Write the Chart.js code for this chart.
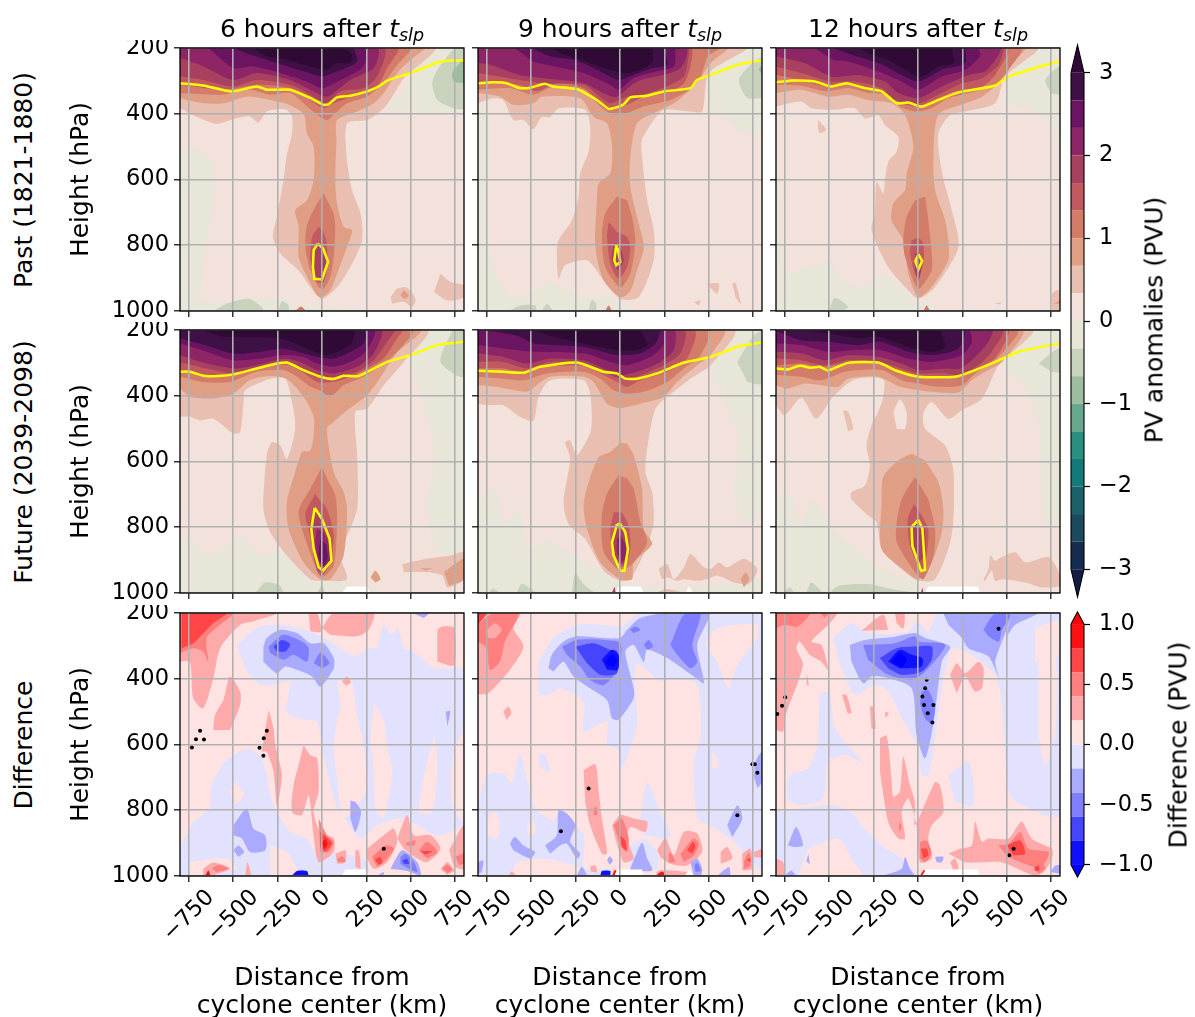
<!DOCTYPE html>
<html>
<head>
<meta charset="utf-8">
<title>PV anomalies</title>
<script src="https://cdn.jsdelivr.net/npm/chart.js@4"></script>
<style>
  html, body { margin: 0; background: #fff; overflow: hidden; height: 100%; }
  canvas { position: absolute; }
  .lbl { position: absolute; white-space: nowrap; color: #000; font-family: "DejaVu Sans"; font-size: 25px; transform: translate(-50%, -50%); }
  .rot { transform: translate(-50%, -50%) rotate(-90deg); }
  .lbl sub { font-size: 17.5px; vertical-align: -4px; line-height: 0; }
</style>
</head>
<body>
<script>
// colour bands, low to high
const pvBounds = [-3, -2.667, -2.333, -2, -1.667, -1.333, -1, -0.667, -0.333, 0, 0.333, 0.667, 1, 1.333, 1.667, 2, 2.333, 2.667, 3];
const pvColors = ['#151d44', '#152c50', '#1a4a5b', '#1b6268', '#127a78', '#2a8f7e', '#68a88c', '#9dbd9f', '#c9d2bd', '#e8e6d9',
  '#f3e2dc', '#e8bfb0', '#e09f84', '#d47c6a', '#c35960', '#a8405f', '#8e2567', '#6a1462', '#3f1045', '#2e0a35'];
const diffBounds = [-1, -0.8, -0.6, -0.4, -0.2, 0, 0.2, 0.4, 0.6, 0.8, 1];
const diffColors = ['#0000ff', '#1010ff', '#4545ff', '#7f7fff', '#aaaaff', '#e2e2ff', '#ffe2e2', '#ffaaaa', '#ff7f7f', '#ff4545', '#ff1010', '#ff0000'];
const xTicks = [-750, -500, -250, 0, 250, 500, 750];
const yTicks = [200, 400, 600, 800, 1000];
const pvTicks = [-3, -2, -1, 0, 1, 2, 3];
const diffTicks = [-1, -0.5, 0, 0.5, 1];
const columnTitles = ['6 hours after', '9 hours after', '12 hours after'];
const rowTitles = ['Past (1821-1880)', 'Future (2039-2098)', 'Difference'];
const fullPanel = [-800, 200, 800, 200, 800, 1000, -800, 1000];

// contour outlines: [band, [km, hPa, km, hPa, ...]]
const past6Bands = [
  [10, fullPanel],
  [9, [367, 388, 800, 388, 800, 200, 631, 200]],
  [9, [-678, 510, -612, 561, -621, 703, -659, 825, -697, 958, -800, 958, -800, 510]],
  [9, [-800, 965, -560, 975, -420, 960, -210, 965, -140, 985, 0, 985, 130, 1000, -800, 1000]],
  [8, [744, 200, 650, 266, 621, 307, 650, 358, 744, 383, 800, 383, 800, 200]],
  [7, [800, 230, 734, 276, 744, 302, 800, 307]],
  [8, [-612, 1000, -537, 978, -414, 963, -339, 988, -330, 1000]],
  [8, [-245, 1000, -226, 970, -188, 983, -188, 1000]],
  [11, [-800, 383, -687, 414, -593, 431, -480, 414, -405, 408, -358, 427, -311, 393, -207, 386, -169, 408, -169, 459, -198, 525, -217, 602, -254, 713, -277, 775, -235, 825, -132, 876, -66, 927, 0, 963, 85, 927, 160, 866, 226, 785, 217, 703, 169, 632, 141, 541, 141, 429, 254, 419, 348, 383, 395, 348, 461, 292, 631, 200, -800, 200]],
  [11, [668, 886, 725, 912, 800, 922, 800, 958, 706, 968, 631, 942]],
  [11, [386, 958, 424, 932, 480, 929, 527, 963, 508, 988, 461, 972, 395, 978]],
  [12, [461, 937, 490, 953, 461, 963, 442, 950]],
  [13, [-151, 1000, -119, 986, -89, 1000]],
  [12, [-800, 353, -669, 368, -555, 368, -424, 348, -292, 358, -198, 370, -104, 400, -85, 459, -47, 500, -47, 602, -85, 663, -151, 693, -132, 744, -132, 835, -85, 896, -28, 952, 0, 959, 47, 937, 85, 886, 141, 805, 169, 754, 122, 744, 85, 673, 75, 602, 81, 480, 85, 419, 198, 393, 292, 368, 348, 337, 424, 276, 499, 236, 574, 200, -800, 200]],
  [13, [-800, 337, -555, 342, -405, 327, -292, 342, -179, 337, -104, 368, -28, 403, 28, 419, 66, 403, 141, 368, 254, 348, 348, 307, 424, 251, 499, 200, -800, 200]],
  [13, [9, 642, -38, 683, -85, 739, -94, 805, -66, 876, -19, 927, 9, 932, 47, 896, 66, 835, 75, 744, 66, 703]],
  [14, [-800, 312, -555, 327, -367, 312, -179, 322, -66, 358, 9, 383, 66, 368, 198, 342, 311, 317, 367, 261, 424, 200, -800, 200]],
  [14, [-19, 744, -56, 775, -66, 846, -28, 912, 9, 912, 28, 866, 28, 795, 9, 759]],
  [15, [-800, 286, -669, 297, -499, 317, -367, 297, -179, 312, -66, 342, 19, 368, 104, 332, 235, 322, 311, 286, 348, 200, -800, 200]],
  [15, [-28, 795, -47, 835, -38, 896, 6, 902, 32, 850, 0, 805]],
  [16, [-800, 230, -669, 256, -499, 297, -367, 276, -179, 297, -47, 332, 28, 348, 160, 297, 292, 261, 311, 200, -800, 200]],
  [17, [-640, 200, -499, 261, -386, 256, -235, 276, -85, 302, 0, 322, 104, 297, 235, 256, 254, 200]],
  [18, [-499, 200, -405, 220, -254, 246, -104, 271, 0, 286, 85, 271, 198, 241, 179, 200]],
  [19, [-386, 200, -311, 225, -235, 231, -104, 251, 28, 266, 85, 246, 160, 246, 169, 220, 122, 200]]
];
const past6Trop = [-800, 307, -669, 314, -509, 332, -367, 317, -311, 327, -179, 327, -66, 352, 9, 373, 38, 371, 85, 350, 160, 345, 254, 332, 320, 317, 367, 299, 499, 276, 650, 244, 725, 238, 800, 238];
const past6Core = [-23, 795, -47, 815, -51, 866, -43, 902, 0, 904, 34, 850, 6, 810, -23, 795];

const past9Bands = [
  [10, fullPanel],
  [9, [501, 276, 708, 200, 800, 200, 802, 454, 665, 449, 567, 399, 501, 393]],
  [9, [-800, 368, -733, 409, -743, 683, -714, 866, -601, 958, -394, 917, -243, 947, -55, 963, 21, 978, 96, 1000, -800, 1000]],
  [8, [800, 225, 746, 246, 670, 297, 717, 352, 800, 352]],
  [7, [802, 251, 783, 266, 802, 281]],
  [8, [-629, 1000, -563, 983, -478, 983, -469, 1000]],
  [8, [-441, 1000, -412, 978, -375, 1000]],
  [8, [-177, 1000, -158, 966, -134, 978, -134, 1000]],
  [11, [-800, 368, -714, 353, -657, 358, -601, 419, -544, 419, -488, 447, -441, 410, -394, 410, -346, 383, -196, 388, -168, 439, -177, 515, -224, 581, -233, 652, -271, 724, -346, 785, -356, 825, -346, 901, -309, 861, -186, 846, -92, 907, 2, 963, 105, 958, 190, 846, 190, 754, 153, 663, 124, 530, 124, 480, 190, 419, 247, 388, 397, 393, 463, 393, 501, 276, 708, 200, -800, 200]],
  [11, [491, 917, 557, 917, 548, 947, 510, 930]],
  [11, [633, 917, 651, 915, 680, 978, 651, 958]],
  [11, [416, 973, 454, 968, 444, 983]],
  [12, [-800, 337, -675, 348, -601, 373, -488, 368, -441, 348, -224, 353, -149, 409, -73, 429, -45, 500, -54, 581, -120, 612, -130, 663, -139, 805, -92, 907, 2, 958, 58, 940, 96, 876, 134, 805, 96, 714, 58, 622, 58, 530, 96, 429, 190, 398, 303, 368, 397, 327, 453, 292, 510, 246, 602, 200, -800, 200]],
  [13, [-800, 327, -620, 322, -488, 342, -375, 317, -205, 327, -100, 383, -36, 403, 40, 398, 134, 378, 284, 358, 397, 325, 454, 287, 495, 226, 557, 200, -800, 200]],
  [13, [-17, 652, -83, 703, -102, 764, -83, 866, 2, 927, 58, 886, 87, 785, 68, 714, 40, 663]],
  [13, [-83, 1000, -64, 983, -45, 1000]],
  [14, [-800, 307, -565, 312, -470, 332, -358, 307, -205, 322, -111, 368, -55, 385, 40, 373, 134, 348, 284, 332, 360, 307, 397, 256, 397, 200, -800, 200]],
  [14, [-64, 729, -73, 775, -55, 856, -8, 902, 40, 866, 58, 805, 40, 775, -17, 759]],
  [15, [-800, 276, -565, 297, -431, 307, -205, 312, -102, 353, -55, 368, 40, 348, 134, 342, 284, 312, 360, 287, 380, 246, 380, 200, -800, 200]],
  [15, [-36, 795, -45, 846, -8, 876, 21, 846, 2, 805]],
  [16, [-800, 246, -733, 251, -565, 282, -424, 292, -205, 307, -73, 342, -17, 348, 96, 302, 284, 276, 341, 261, 375, 226, 372, 200, -800, 200]],
  [17, [-591, 200, -488, 241, -412, 251, -205, 276, -55, 312, -8, 327, 77, 292, 209, 271, 303, 256, 313, 200]],
  [18, [-497, 200, -394, 225, -262, 236, -130, 266, -8, 297, 77, 282, 181, 261, 266, 251, 247, 200]],
  [19, [-394, 200, -318, 220, -243, 231, -92, 261, 40, 276, 153, 256, 186, 236, 181, 200]]
];
const past9Trop = [-800, 307, -714, 304, -639, 307, -565, 322, -499, 320, -424, 309, -375, 317, -243, 325, -196, 337, -130, 358, -64, 385, -36, 383, 21, 371, 58, 350, 153, 345, 247, 332, 397, 322, 435, 297, 510, 282, 661, 251, 793, 238];
const past9Core = [-21, 800, -32, 846, -21, 861, 2, 851, -11, 815, -21, 800];

const past12Bands = [
  [10, fullPanel],
  [9, [491, 368, 510, 287, 670, 200, 802, 200, 802, 470, 735, 430, 640, 385]],
  [9, [-800, 500, -775, 650, -750, 880, -620, 868, -495, 848, -430, 910, -318, 928, -186, 890, -55, 948, -8, 972, 96, 978, 96, 1000, -800, 1000]],
  [8, [802, 251, 717, 297, 755, 338, 802, 343]],
  [8, [-497, 993, -469, 960, -394, 988, -431, 1000, -497, 1000]],
  [11, [-800, 378, -657, 363, -601, 383, -469, 388, -356, 383, -299, 414, -224, 404, -186, 434, -111, 470, -120, 515, -167, 546, -186, 602, -196, 642, -233, 607, -243, 703, -262, 754, -168, 866, -55, 937, 2, 963, 96, 927, 228, 805, 190, 693, 134, 576, 115, 459, 181, 404, 266, 393, 435, 368, 491, 287, 670, 200, -800, 200]],
  [11, [-563, 419, -516, 449, -554, 459, -563, 444]],
  [11, [755, 1000, 755, 947, 793, 937, 802, 1000]],
  [11, [433, 978, 470, 973, 461, 980]],
  [12, [764, 978, 802, 968, 802, 978]],
  [13, [30, 1000, 49, 983, 68, 1000]],
  [12, [-800, 337, -657, 327, -507, 348, -394, 342, -281, 358, -149, 368, -73, 403, -26, 500, -64, 581, -73, 632, -139, 673, -149, 724, -83, 785, -55, 886, 2, 958, 77, 927, 171, 846, 171, 785, 153, 724, 96, 632, 87, 530, 115, 403, 266, 368, 360, 348, 463, 302, 548, 236, 604, 200, -800, 200]],
  [13, [-800, 312, -657, 315, -516, 332, -394, 322, -281, 337, -186, 342, -102, 378, -17, 393, 77, 383, 171, 353, 322, 332, 435, 312, 510, 266, 580, 200, -800, 200]],
  [13, [-17, 663, -64, 714, -83, 785, -73, 835, 2, 932, 77, 876, 77, 825, 58, 724, 40, 652]],
  [14, [-800, 282, -657, 297, -516, 317, -394, 307, -262, 327, -168, 342, -92, 368, 2, 378, 115, 353, 209, 332, 360, 317, 435, 282, 501, 200, -800, 200]],
  [14, [-36, 785, -45, 825, -8, 896, 30, 856, 30, 795, 2, 775]],
  [15, [-800, 256, -657, 276, -488, 302, -356, 302, -205, 322, -130, 358, 2, 368, 115, 342, 247, 307, 360, 292, 454, 251, 473, 200, -800, 200]],
  [15, [-17, 825, -17, 876, 2, 907, 21, 866, 11, 825]],
  [16, [-800, 225, -639, 246, -488, 287, -337, 282, -186, 302, -111, 337, 2, 352, 134, 317, 284, 282, 378, 271, 435, 236, 463, 200, -800, 200]],
  [17, [-582, 200, -478, 236, -394, 241, -224, 271, -92, 302, 2, 327, 134, 287, 266, 266, 350, 225, 341, 200]],
  [18, [-478, 200, -375, 220, -224, 246, -92, 282, 2, 302, 134, 266, 266, 246, 266, 200]],
  [19, [-337, 200, -262, 220, -168, 236, -73, 266, 11, 287, 115, 256, 200, 246, 190, 200]]
];
const past12Trop = [-800, 304, -694, 299, -582, 302, -488, 317, -403, 307, -299, 322, -205, 332, -121, 368, -55, 366, 21, 378, 115, 358, 228, 335, 435, 314, 510, 287, 661, 261, 793, 241];
const past12Core = [2, 827, -15, 848, 2, 874, 23, 848, 2, 827];

const future6Bands = [
  [10, fullPanel],
  [9, [499, 286, 593, 200, 800, 200, 800, 866, 650, 875, 593, 744, 631, 561, 555, 388]],
  [9, [-800, 825, -744, 835, -612, 886, -480, 825, -330, 886, -235, 876, -66, 958, 0, 968, 141, 968, 273, 988, 348, 1000, -800, 1000]],
  [8, [734, 200, 668, 297, 800, 343, 800, 200]],
  [8, [-377, 1000, -320, 968, -235, 978, -217, 1000]],
  [8, [-28, 1000, 0, 978, 19, 1000]],
  [11, [-800, 464, -744, 464, -687, 475, -612, 470, -499, 515, -461, 510, -442, 419, -433, 383, -292, 348, -207, 348, -169, 419, -151, 500, -198, 592, -235, 551, -282, 541, -311, 581, -330, 744, -292, 815, -198, 886, -66, 958, 0, 963, 141, 958, 104, 886, 198, 744, 198, 581, 188, 449, 254, 439, 348, 368, 461, 297, 593, 200, -800, 200]],
  [11, [452, 912, 574, 897, 725, 886, 800, 876, 800, 958, 706, 983, 678, 947, 593, 937, 461, 937]],
  [12, [555, 925, 621, 925, 584, 932]],
  [12, [687, 937, 800, 896, 800, 958, 716, 978]],
  [12, [273, 953, 301, 932, 330, 958, 301, 968]],
  [12, [-800, 378, -744, 403, -612, 408, -499, 393, -405, 352, -290, 340, -200, 348, -150, 372, -85, 419, -47, 465, -47, 520, -66, 566, -113, 572, -151, 632, -198, 724, -188, 805, -104, 907, -9, 958, 47, 958, 122, 886, 141, 744, 122, 693, 66, 632, 28, 500, 66, 480, 132, 449, 254, 398, 340, 335, 420, 270, 553, 200, -800, 200]],
  [13, [-800, 342, -669, 358, -518, 358, -367, 327, -217, 322, -141, 342, -66, 372, -9, 385, 47, 403, 122, 368, 235, 342, 311, 317, 424, 266, 508, 200, -800, 200]],
  [13, [0, 617, -66, 683, -132, 749, -113, 805, -28, 932, 0, 952, 66, 917, 85, 775, 75, 703, 28, 652]],
  [14, [-800, 322, -669, 337, -537, 342, -367, 317, -207, 305, -113, 327, -28, 358, 66, 358, 160, 342, 254, 317, 348, 286, 424, 225, 452, 200, -800, 200]],
  [14, [-38, 698, -94, 759, -66, 825, -28, 932, 0, 947, 47, 907, 66, 825, 28, 744, -19, 714]],
  [15, [-800, 297, -649, 317, -480, 332, -330, 307, -207, 297, -122, 317, -28, 342, 75, 342, 198, 327, 292, 292, 367, 236, 405, 200, -800, 200]],
  [15, [-41, 739, -66, 805, -28, 927, 9, 932, 56, 896, 43, 835, 0, 775]],
  [16, [-800, 276, -649, 302, -480, 317, -330, 302, -207, 287, -104, 302, -28, 322, 66, 332, 198, 312, 292, 271, 330, 200, -800, 200]],
  [16, [-28, 805, -38, 850, -9, 912, 28, 920, 47, 895, 38, 850, 10, 815]],
  [17, [-800, 241, -649, 266, -499, 292, -348, 287, -217, 276, -104, 282, -28, 302, 66, 312, 179, 292, 254, 261, 292, 200, -800, 200]],
  [17, [-9, 835, -19, 886, 6, 917, 32, 896, 24, 855]],
  [18, [-800, 225, -660, 246, -499, 272, -348, 266, -217, 256, -104, 271, -28, 282, 66, 287, 160, 266, 235, 241, 235, 200, -800, 200]],
  [19, [-669, 200, -555, 220, -235, 225, -66, 261, 28, 276, 160, 246, 188, 200]],
  [-1, [113, 1000, 141, 980, 254, 980, 273, 1000]]
];
const future6Trop = [-800, 327, -744, 327, -659, 340, -518, 337, -367, 317, -254, 302, -198, 299, -104, 322, -9, 342, 66, 349, 122, 339, 207, 340, 367, 297, 499, 276, 650, 246, 800, 236];
const future6Core = [-41, 741, -60, 805, -47, 866, -19, 922, 6, 932, 53, 902, 43, 835, 0, 775, -41, 741];

const future9Bands = [
  [10, fullPanel],
  [9, [510, 307, 642, 200, 802, 200, 802, 760, 690, 780, 640, 690, 670, 530, 570, 400]],
  [9, [-800, 724, -694, 688, -657, 785, -563, 744, -525, 866, -412, 840, -262, 886, -92, 937, 2, 968, 153, 978, 303, 985, 453, 985, 620, 968, 802, 960, 802, 1000, -800, 1000]],
  [8, [-743, 1000, -714, 986, -676, 1000]],
  [8, [-582, 1000, -554, 972, -488, 993, -459, 1000]],
  [8, [-271, 1000, -252, 942, -196, 978, -139, 1000]],
  [8, [661, 297, 755, 216, 802, 203, 802, 363, 717, 358]],
  [11, [-800, 424, -733, 429, -657, 429, -563, 464, -488, 476, -459, 403, -394, 353, -205, 353, -167, 398, -164, 505, -243, 581, -281, 536, -309, 541, -281, 592, -318, 724, -290, 790, -196, 836, -92, 932, 2, 963, 58, 958, 153, 856, 190, 785, 181, 693, 143, 632, 162, 530, 200, 439, 266, 403, 397, 348, 510, 307, 642, 200, -800, 200]],
  [11, [218, 927, 266, 912, 303, 958, 360, 922, 397, 881, 473, 922, 510, 927, 557, 907, 604, 922, 699, 896, 774, 927, 727, 972, 642, 968, 548, 947, 491, 958, 435, 963, 360, 958, 322, 963, 266, 953, 237, 958]],
  [11, [200, 1000, 266, 988, 360, 1000]],
  [12, [680, 958, 708, 937, 727, 958, 699, 983]],
  [12, [-800, 368, -694, 373, -525, 388, -459, 363, -394, 342, -205, 342, -149, 358, -73, 424, 2, 437, 153, 419, 247, 403, 322, 358, 435, 307, 510, 276, 585, 200, -800, 200]],
  [12, [2, 543, -55, 571, -120, 587, -177, 663, -205, 734, -186, 805, -111, 907, 2, 958, 68, 958, 77, 907, 181, 851, 134, 805, 124, 683, 77, 581, 40, 546]],
  [13, [-800, 342, -657, 348, -544, 353, -412, 332, -205, 327, -111, 348, -36, 383, 40, 393, 134, 388, 266, 358, 360, 317, 450, 280, 500, 200, -800, 200]],
  [13, [-8, 642, -73, 698, -102, 764, -92, 876, 2, 932, 77, 907, 153, 846, 115, 785, 77, 683, 40, 652]],
  [14, [-800, 317, -657, 317, -544, 327, -412, 312, -205, 309, -92, 337, -17, 358, 40, 373, 115, 353, 266, 327, 378, 287, 416, 200, -800, 200]],
  [14, [-36, 754, -55, 805, -45, 866, -8, 917, 30, 917, 58, 866, 49, 795, 11, 754]],
  [15, [-800, 297, -657, 297, -525, 317, -394, 297, -205, 302, -92, 327, 2, 348, 96, 342, 247, 307, 341, 271, 360, 200, -800, 200]],
  [15, [-32, 805, -45, 856, -2, 912, 30, 907, 45, 856, 11, 805]],
  [15, [-45, 1000, -30, 982, -25, 1000]],
  [16, [-800, 271, -657, 282, -525, 302, -394, 287, -205, 292, -73, 322, 2, 337, 96, 327, 228, 297, 303, 261, 303, 200, -800, 200]],
  [16, [-17, 835, -17, 876, 11, 907, 36, 886, 30, 851, 2, 825]],
  [17, [-800, 246, -657, 256, -488, 266, -205, 271, -55, 297, 40, 307, 190, 276, 256, 236, 247, 200, -800, 200]],
  [18, [-750, 200, -563, 220, -488, 241, -205, 251, -17, 276, 115, 271, 200, 241, 230, 200]],
  [19, [-488, 200, -375, 220, -205, 241, -17, 261, 96, 261, 153, 246, 115, 200]],
  [-1, [-26, 1000, -8, 980, 115, 980, 134, 1000]],
  [-1, [369, 1000, 388, 980, 412, 1000]]
];
const future9Trop = [-800, 324, -657, 327, -544, 330, -450, 312, -243, 299, -92, 327, -17, 332, 30, 348, 96, 348, 209, 332, 360, 299, 510, 282, 661, 251, 793, 238];
const future9Core = [-17, 791, -45, 846, -36, 886, 2, 932, 25, 932, 45, 866, 30, 815, 2, 791, -17, 791];

const future12Bands = [
  [10, fullPanel],
  [9, [454, 307, 642, 200, 802, 200, 802, 780, 720, 790, 690, 640, 680, 480, 590, 360]],
  [9, [-800, 700, -710, 700, -657, 795, -601, 714, -488, 795, -394, 845, -205, 928, -17, 963, 2, 978, 40, 1000, -800, 1000]],
  [8, [-761, 1000, -723, 983, -695, 1000]],
  [8, [-629, 1000, -601, 968, -535, 1000]],
  [8, [-497, 1000, -450, 978, -281, 973, -149, 988, -8, 1000]],
  [8, [680, 302, 774, 261, 802, 256, 802, 328, 755, 328]],
  [11, [-800, 429, -751, 459, -657, 406, -573, 470, -478, 403, -356, 350, -196, 350, -196, 403, -224, 449, -262, 490, -290, 551, -271, 612, -299, 673, -375, 693, -375, 714, -281, 764, -233, 785, -205, 866, -73, 937, 2, 963, 96, 958, 190, 825, 200, 632, 153, 551, 40, 500, 30, 454, 77, 419, 171, 470, 247, 444, 360, 409, 454, 307, 642, 200, -800, 200]],
  [10, [-139, 449, -102, 411, -64, 449, -73, 500, -120, 500]],
  [11, [-422, 444, -394, 449, -365, 500, -394, 508]],
  [11, [369, 958, 397, 927, 407, 886, 435, 902, 454, 896, 548, 876, 604, 907, 736, 891, 802, 947, 802, 978, 699, 983, 604, 968, 473, 958, 435, 963, 416, 932, 378, 963]],
  [12, [-800, 368, -733, 378, -639, 363, -544, 368, -450, 373, -394, 348, -224, 342, -102, 373, -55, 378, 77, 388, 228, 390, 303, 353, 378, 327, 473, 297, 586, 200, -800, 200]],
  [12, [-36, 576, -111, 597, -196, 647, -205, 724, -205, 866, -73, 932, 2, 958, 77, 907, 134, 815, 143, 744, 115, 663, 40, 597]],
  [13, [-800, 337, -657, 342, -544, 353, -412, 327, -205, 322, -92, 353, 2, 363, 115, 373, 247, 368, 322, 332, 435, 292, 557, 200, -800, 200]],
  [13, [-17, 647, -92, 714, -120, 785, -120, 846, -17, 937, 30, 958, 87, 886, 96, 805, 58, 714]],
  [14, [-800, 307, -657, 302, -544, 312, -412, 302, -205, 302, -92, 327, 2, 342, 134, 348, 247, 337, 322, 322, 435, 285, 501, 225, 510, 200, -800, 200]],
  [14, [-23, 729, -58, 775, -45, 856, 21, 932, 49, 886, 58, 805, 21, 764]],
  [15, [-800, 287, -657, 292, -525, 307, -394, 292, -215, 297, -92, 317, 2, 332, 153, 332, 228, 337, 341, 307, 416, 266, 473, 200, -800, 200]],
  [15, [-26, 785, -36, 846, 2, 907, 40, 876, 40, 805]],
  [15, [17, 1000, 25, 985, 30, 1000]],
  [16, [-800, 266, -657, 271, -525, 292, -394, 277, -215, 282, -92, 302, 2, 322, 153, 317, 237, 317, 322, 282, 397, 236, 416, 200, -800, 200]],
  [17, [-800, 241, -657, 246, -507, 266, -356, 261, -215, 261, -55, 287, 77, 297, 247, 276, 303, 236, 284, 200, -800, 200]],
  [18, [-790, 205, -657, 231, -507, 236, -337, 246, -215, 236, -55, 266, 77, 276, 228, 256, 256, 200, -790, 200]],
  [19, [-657, 200, -507, 210, -337, 225, -224, 220, -55, 251, 77, 266, 153, 251, 124, 200]],
  [-1, [40, 1000, 55, 980, 337, 980, 350, 1000]]
];
const future12Trop = [-800, 317, -733, 320, -667, 309, -601, 315, -554, 312, -507, 323, -394, 300, -224, 299, -120, 324, 2, 342, 209, 342, 322, 322, 435, 297, 567, 266, 793, 241];
const future12Core = [2, 777, -36, 800, -32, 856, 17, 932, 40, 929, 25, 805, 2, 777];

const diff6Bands = [
  [6, fullPanel],
  [5, [-480, 297, -367, 246, -235, 236, -66, 256, 47, 286, 179, 332, 273, 307, 499, 312, 631, 368, 800, 378, 800, 835, 650, 876, 461, 825, 311, 846, 217, 886, 141, 835, 85, 795, 0, 612, -28, 530, -104, 525, -198, 500, -183, 408, -273, 419, -348, 419, -424, 378]],
  [5, [311, 307, 348, 236, 395, 266, 424, 246, 461, 307]],
  [5, [-631, 795, -621, 724, -546, 652, -424, 612, -339, 642, -273, 785, -179, 866, -85, 886, -28, 932, 122, 932, 254, 958, 254, 1000, -800, 1000, -800, 917, -725, 835]],
  [6, [85, 408, 160, 398, 198, 510, 226, 581, 254, 734, 122, 825, 85, 703, 66, 602, 104, 480]],
  [6, [292, 470, 348, 530, 367, 602, 395, 683, 348, 825, 301, 795, 292, 683, 273, 581]],
  [6, [631, 571, 650, 663, 621, 805, 546, 805, 593, 652]],
  [6, [744, 622, 800, 561, 800, 835, 734, 785, 725, 683]],
  [6, [-744, 958, -537, 947, -480, 978, -744, 1000]],
  [6, [-292, 907, -198, 927, -141, 988, -292, 1000]],
  [6, [-490, 713, -439, 754, -490, 780, -518, 744]],
  [7, [-800, 200, -254, 200, -386, 225, -461, 236, -574, 307, -612, 398, -669, 490, -725, 459, -744, 348, -800, 348]],
  [7, [-612, 556, -602, 510, -555, 464, -518, 393, -461, 439, -461, 480, -518, 556]],
  [7, [-75, 200, -28, 200, -6, 256, -66, 256]],
  [7, [0, 246, 66, 200, 292, 200, 263, 251, 198, 271, 47, 266]],
  [7, [650, 251, 678, 241, 744, 246, 744, 358, 650, 348]],
  [7, [-301, 495, -273, 551, -263, 602, -226, 693, -254, 785, -273, 683, -311, 622, -339, 622]],
  [7, [-104, 602, -66, 632, -28, 642, -19, 744, -47, 805, -9, 866, 66, 886, 66, 927, -19, 958, -47, 876, -75, 754, -113, 815, -169, 805, -160, 724, -132, 663]],
  [7, [75, 932, 132, 922, 132, 958, 85, 963]],
  [7, [254, 917, 348, 876, 405, 856, 424, 896, 367, 958, 292, 978, 254, 947]],
  [7, [424, 886, 480, 815, 518, 876, 612, 876, 668, 917, 593, 958, 537, 947, 461, 917]],
  [7, [716, 922, 800, 846, 800, 978, 744, 973]],
  [7, [668, 978, 706, 958, 744, 983, 706, 996]],
  [7, [-669, 978, -612, 959, -518, 978, -631, 1000, -669, 1000]],
  [7, [-433, 1000, -420, 958, -395, 1000]],
  [7, [188, 922, 207, 922, 217, 978, 188, 972]],
  [7, [113, 408, 141, 393, 164, 411, 137, 421]],
  [8, [-800, 200, -499, 200, -574, 236, -650, 276, -640, 348, -669, 317, -725, 307, -800, 322]],
  [9, [-791, 200, -537, 200, -612, 231, -650, 251, -725, 292, -791, 307]],
  [8, [-19, 825, 28, 876, 66, 896, 38, 927, -9, 927]],
  [9, [-9, 866, 56, 899, 19, 926, -9, 912]],
  [10, [19, 886, 32, 902, 13, 917, 0, 899]],
  [8, [282, 942, 357, 907, 405, 917, 348, 958, 311, 973]],
  [9, [296, 950, 330, 942, 339, 958, 320, 966]],
  [8, [546, 922, 593, 896, 650, 927, 593, 947]],
  [9, [555, 925, 621, 925, 584, 935]],
  [8, [471, 899, 527, 892, 518, 907, 480, 907]],
  [8, [753, 942, 800, 932, 800, 962, 772, 967]],
  [8, [678, 978, 706, 965, 734, 981, 706, 991]],
  [8, [-621, 978, -584, 966, -527, 978, -593, 988]],
  [10, [-659, 1000, -640, 983, -627, 1000]],
  [8, [85, 950, 113, 940, 132, 956, 94, 958]],
  [4, [-330, 302, -311, 276, -235, 251, -141, 261, -66, 292, 9, 292, 66, 337, 66, 368, -9, 424, -56, 393, -141, 373, -207, 363, -254, 383, -330, 348]],
  [4, [-499, 846, -424, 795, -386, 856, -320, 876, -320, 922, -405, 927, -452, 886, -499, 876]],
  [4, [160, 770, 188, 775, 220, 805, 188, 866, 160, 825]],
  [4, [-499, 922, -471, 907, -439, 927, -471, 942]],
  [4, [697, 500, 722, 498, 707, 545]],
  [4, [405, 958, 452, 922, 537, 958, 556, 1000, 480, 985, 386, 978]],
  [4, [311, 1000, 348, 988, 348, 1000]],
  [4, [508, 200, 602, 200, 574, 215]],
  [4, [-179, 1000, -132, 983, -85, 988, -75, 1000]],
  [3, [-301, 302, -217, 266, -113, 287, -75, 307, -85, 348, -160, 327, -217, 342, -292, 322]],
  [3, [-47, 352, -9, 322, 43, 352, 0, 368]],
  [3, [442, 942, 471, 932, 518, 958, 537, 988, 490, 978, 442, 963]],
  [2, [-273, 302, -226, 282, -179, 295, -207, 317, -254, 317]],
  [2, [452, 953, 480, 948, 490, 963, 461, 963]],
  [1, [-169, 1000, -141, 985, -85, 985, -75, 1000]],
  [-1, [113, 1000, 132, 980, 245, 980, 264, 1000]]
];
const diff6Dots = [-687, 558, -710, 584, -733, 609, -311, 558, -328, 581, -330, 634, -665, 585, -352, 610, 348, 917];

const diff9Bands = [
  [6, fullPanel],
  [5, [-459, 348, -375, 276, -243, 236, -111, 236, 2, 241, 115, 200, 802, 200, 802, 978, 623, 886, 501, 846, 435, 825, 416, 652, 454, 581, 435, 419, 322, 398, 228, 408, 96, 353, 87, 429, 96, 541, 11, 673, -17, 612, -73, 602, -73, 530, -205, 561, -205, 470, -337, 429, -394, 449, -459, 449]],
  [6, [482, 297, 548, 246, 774, 236, 774, 276, 661, 358, 614, 429, 548, 348]],
  [6, [520, 617, 558, 663, 520, 673]],
  [5, [-800, 1000, -800, 798, -750, 693, -657, 688, -610, 718, -563, 627, -480, 790, -380, 830, -330, 810, -205, 876, -200, 975, -55, 980, -36, 1000]],
  [5, [-459, 627, -422, 632, -394, 683, -450, 673]],
  [6, [-743, 825, -705, 805, -676, 846, -695, 886, -743, 876]],
  [6, [-525, 846, -488, 830, -478, 871, -516, 876]],
  [6, [-582, 958, -450, 947, -318, 958, -224, 978, -281, 1000, -620, 1000]],
  [5, [115, 825, 153, 714, 228, 805, 284, 866, 266, 886, 134, 876]],
  [5, [58, 907, 134, 886, 209, 927, 209, 978, 58, 978]],
  [7, [-800, 200, -563, 200, -601, 246, -544, 302, -620, 373, -741, 444, -800, 447]],
  [7, [-657, 500, -629, 485, -612, 505, -638, 525]],
  [7, [-205, 678, -139, 660, -120, 744, -102, 825, -73, 932, -102, 932, -168, 846, -196, 775]],
  [7, [-45, 846, 2, 815, 77, 825, 153, 835, 143, 866, 58, 851, 40, 886, 77, 947, 21, 958, -26, 886]],
  [7, [209, 922, 256, 886, 303, 937, 360, 866, 435, 871, 463, 927, 378, 968, 284, 963, 228, 943]],
  [7, [567, 927, 604, 912, 633, 947, 567, 963]],
  [7, [689, 932, 736, 917, 746, 978, 689, 983]],
  [7, [755, 927, 802, 917, 802, 942, 755, 942]],
  [7, [-168, 972, -139, 968, -130, 988, -164, 986]],
  [7, [-629, 1000, -610, 986, -582, 1000]],
  [7, [200, 1000, 218, 983, 378, 988, 360, 1000]],
  [8, [-800, 236, -714, 200, -572, 200, -648, 287, -676, 348, -733, 373, -751, 307, -800, 287]],
  [7, [-751, 251, -704, 231, -667, 251, -704, 276, -742, 276]],
  [9, [-800, 200, -751, 200, -800, 236]],
  [8, [-36, 846, 11, 825, 49, 886, 40, 927, 2, 907, -17, 876]],
  [9, [-2, 876, 30, 892, 36, 922, 11, 912]],
  [8, [341, 932, 416, 886, 444, 902, 416, 937, 360, 958]],
  [9, [378, 922, 412, 896, 425, 912, 407, 932]],
  [8, [275, 932, 284, 927, 312, 958, 275, 958]],
  [8, [699, 953, 727, 927, 736, 968, 699, 978]],
  [9, [712, 950, 733, 946, 736, 958]],
  [8, [-149, 795, -130, 790, -130, 815, -149, 813]],
  [10, [200, 1000, 237, 986, 266, 1000]],
  [10, [-45, 1000, -32, 983, -21, 983, -32, 1000]],
  [4, [-403, 368, -384, 327, -318, 287, -243, 271, -92, 276, 2, 276, 40, 251, 115, 215, 266, 200, 501, 200, 435, 297, 473, 413, 416, 393, 266, 337, 153, 312, 134, 348, 77, 297, 30, 317, 77, 429, 77, 459, -8, 525, -45, 520, -73, 465, -168, 429, -262, 393, -318, 348, -375, 378]],
  [3, [-327, 302, -243, 282, -92, 282, 2, 292, -8, 368, -92, 419, -168, 404, -224, 363, -300, 327]],
  [3, [284, 297, 360, 205, 454, 200, 407, 297, 435, 348, 397, 368, 322, 327]],
  [3, [134, 297, 162, 282, 186, 302, 156, 312]],
  [3, [55, 251, 87, 241, 115, 251, 77, 261]],
  [2, [-252, 302, -149, 292, -55, 312, -17, 317, -17, 383, -111, 388, -186, 353]],
  [1, [-102, 342, -45, 312, -8, 327, -13, 373, -73, 373]],
  [0, [-83, 348, -45, 327, -17, 342, -36, 363, -70, 360]],
  [4, [-422, 907, -356, 876, -346, 800, -299, 810, -252, 846, -281, 896, -224, 932, -243, 947, -299, 902, -337, 907, -394, 932]],
  [4, [-620, 902, -592, 881, -544, 907, -478, 927, -506, 947, -601, 922]],
  [4, [604, 846, 661, 785, 689, 825, 633, 881]],
  [4, [755, 698, 764, 652, 802, 622, 802, 714, 774, 732]],
  [4, [58, 978, 124, 899, 153, 947, 181, 983, 58, 983]],
  [4, [-73, 953, -58, 940, -40, 953, -58, 966]],
  [4, [-800, 958, -770, 953, -780, 988, -800, 993]],
  [4, [397, 958, 435, 947, 463, 978, 454, 1000, 416, 1000]],
  [3, [420, 968, 435, 960, 454, 983, 426, 988]],
  [4, [548, 1000, 614, 973, 623, 1000]],
  [4, [-243, 1000, -215, 973, -183, 1000]],
  [1, [-111, 1000, -102, 985, -55, 985, -55, 1000]],
  [-1, [-32, 1000, -8, 980, 124, 980, 134, 1000]],
  [-1, [369, 1000, 388, 980, 412, 1000]]
];
const diff9Dots = [774, 686, -333, 864, -177, 734, 661, 815, 746, 660, 759, 660];

const diff12Bands = [
  [6, fullPanel],
  [5, [-478, 276, -375, 231, -281, 261, -55, 256, -8, 225, 58, 256, 115, 200, 802, 200, 802, 815, 584, 785, 510, 744, 473, 480, 435, 388, 266, 317, 190, 307, 134, 429, 105, 551, 58, 693, 21, 693, -8, 602, -92, 520, -168, 439, -243, 419, -356, 449, -440, 358]],
  [6, [661, 246, 793, 225, 793, 327, 661, 348]],
  [6, [680, 348, 774, 337, 774, 561, 717, 663, 680, 581]],
  [6, [322, 500, 388, 490, 397, 632, 378, 683, 322, 683]],
  [5, [171, 693, 284, 652, 313, 785, 209, 775]],
  [5, [-554, 444, -497, 439, -469, 551, -318, 652, -412, 632, -507, 652, -535, 764, -657, 785, -733, 764, -723, 693, -620, 673, -563, 602]],
  [5, [-800, 805, -488, 785, -375, 805, -318, 846, -205, 907, -92, 947, -17, 1000, -800, 1000]],
  [6, [-620, 917, -450, 886, -375, 947, -318, 1000, -676, 1000]],
  [7, [-800, 200, -459, 200, -506, 236, -600, 287, -544, 297, -506, 373, -544, 348, -610, 327, -667, 287, -685, 307, -648, 358, -751, 520, -760, 561, -800, 556]],
  [7, [-318, 254, -196, 205, -168, 251]],
  [7, [-130, 200, -77, 200, -83, 247, -120, 231]],
  [7, [181, 388, 218, 353, 266, 383, 341, 348, 369, 368, 360, 429, 322, 439, 266, 393, 218, 444]],
  [7, [-428, 449, -403, 449, -375, 505, -397, 505]],
  [7, [-271, 485, -252, 485, -239, 551, -262, 553]],
  [7, [-186, 500, -164, 505, -183, 520]],
  [7, [-628, 383, -615, 419, -628, 419]],
  [7, [-214, 581, -177, 573, -149, 703, -139, 759, -102, 744, -83, 637, -45, 724, -17, 775, -17, 846, 96, 714, 124, 724, 143, 805, 77, 846, 58, 886, 77, 947, 11, 958, -8, 846, -55, 764, -92, 805, -73, 886, -111, 886, -168, 835, -214, 683]],
  [7, [171, 932, 237, 917, 303, 907, 322, 835, 360, 896, 397, 886, 510, 886, 584, 835, 640, 886, 717, 907, 755, 917, 755, 947, 708, 988, 661, 1000, 473, 958, 378, 958, 266, 958, 190, 937]],
  [7, [181, 958, 209, 947, 228, 978, 200, 983]],
  [7, [-800, 947, -760, 958, -751, 1000, -800, 1000]],
  [8, [-800, 200, -610, 200, -677, 241, -751, 236, -800, 246]],
  [8, [-553, 200, -506, 200, -525, 215]],
  [8, [11, 897, 49, 892, 77, 932, 40, 958, 11, 947]],
  [9, [17, 917, 49, 917, 58, 937, 30, 947]],
  [8, [-107, 835, -92, 850, -107, 866]],
  [8, [452, 907, 510, 902, 576, 866, 623, 917, 736, 927, 717, 958, 661, 973, 510, 943]],
  [9, [501, 907, 576, 892, 604, 932, 538, 937]],
  [8, [651, 978, 699, 958, 717, 978, 680, 993]],
  [9, [656, 973, 680, 968, 684, 983, 661, 985]],
  [10, [11, 1000, 30, 983, 40, 983, 21, 1000]],
  [4, [-384, 297, -299, 282, -130, 272, -17, 261, 40, 276, 181, 302, 134, 348, 87, 536, 40, 642, -8, 571, -36, 429, -168, 398, -262, 393, -309, 414, -375, 348]],
  [4, [143, 200, 510, 200, 435, 348, 454, 393, 397, 332, 284, 307, 247, 276, 171, 236]],
  [4, [518, 200, 678, 200, 548, 236, 501, 271]],
  [3, [-309, 297, -130, 292, -17, 271, 2, 287, 153, 297, 40, 378, -36, 403, -168, 388, -281, 342]],
  [3, [21, 439, 58, 434, 96, 490, 77, 536, 40, 521, 11, 475]],
  [3, [369, 251, 426, 205, 520, 205, 473, 251, 454, 287, 397, 271]],
  [2, [-215, 337, -120, 307, -17, 302, 77, 302, 77, 342, 21, 378, -92, 388, -168, 368]],
  [1, [-168, 348, -102, 312, -36, 327, 24, 337, 21, 363, -55, 368, -102, 368]],
  [0, [-149, 348, -102, 322, -64, 342, -92, 368]],
  [4, [-733, 907, -686, 851, -648, 907, -695, 912]],
  [4, [-628, 955, -618, 935, -608, 965]],
  [4, [96, 942, 143, 942, 134, 958, 105, 958]],
  [4, [-205, 1000, -92, 978, -73, 942, -45, 978, -17, 1000]],
  [4, [-752, 1000, -714, 983, -686, 1000]],
  [4, [746, 988, 774, 968, 802, 968, 802, 993]],
  [-1, [36, 1000, 40, 980, 337, 980, 350, 1000]]
];
const diff12Dots = [-793, 507, -766, 482, -748, 456, 55, 505, 34, 480, 87, 480, 40, 429, 81, 533, 539, 917, 514, 937, 25, 454, 49, 403, 454, 248];

const columnLefts = [180, 478, 776];
const rowTops = [48, 330, 613];
const panelW = 284, panelH = 263;
const marginL = 114, marginT = 8, marginR = 8;
Chart.defaults.font.family = 'DejaVu Sans';
Chart.defaults.font.size = 22.5;
Chart.defaults.color = '#000';

const frame = {
  id: 'frame',
  afterDraw(chart) {
    const a = chart.chartArea, ctx = chart.ctx;
    ctx.save();
    ctx.strokeStyle = '#000';
    ctx.lineWidth = 1.3;
    ctx.strokeRect(a.left, a.top, a.right - a.left, a.bottom - a.top);
    ctx.restore();
  }
};

// matplotlib centres rotated tick labels on the tick, chart.js right-aligns them
const centerTicks = {
  id: 'centerTicks',
  beforeDraw(chart) {
    const s = chart.scales.x, ctx = chart.ctx;
    if (!s.options.ticks.display) return;
    ctx.save();
    ctx.font = '22.5px "DejaVu Sans"';
    s.getLabelItems(chart.chartArea).forEach((item, i) => {
      const w = ctx.measureText(item.label).width;
      const boxH = (w + 17) * Math.SQRT1_2;
      item.options.translation = [s.getPixelForValue(xTicks[i]), chart.chartArea.bottom + 12 + boxH / 2];
      item.options.textAlign = 'center';
      item.options.textBaseline = 'middle';
      item.textOffset = 0;
    });
    ctx.restore();
  }
};

function toPoints(flat) {
  const pts = [];
  for (let i = 0; i < flat.length; i += 2) pts.push({ x: flat[i], y: flat[i + 1] });
  return pts;
}

function shape(flat, color, order, tension) {
  return { data: toPoints(flat), showLine: true, fill: 'shape', backgroundColor: color, borderWidth: 0, pointRadius: 0, tension: tension || 0, order: order };
}

function fmtTick(v) {
  return v < 0 ? '\u2212' + (-v) : '' + v;
}

function noPadding(s) {
  s.paddingTop = s.paddingBottom = s.paddingLeft = s.paddingRight = 0;
}

function addCanvas(left, top, w, h) {
  const c = document.createElement('canvas');
  c.width = w; c.height = h;
  c.style.left = left + 'px';
  c.style.top = top + 'px';
  c.style.width = w + 'px';
  c.style.height = h + 'px';
  document.body.appendChild(c);
  return c.getContext('2d');
}

function addLabel(html, x, y, rotated) {
  const d = document.createElement('div');
  d.className = 'lbl' + (rotated ? ' rot' : '');
  d.innerHTML = html;
  d.style.left = x + 'px';
  d.style.top = y + 'px';
  document.body.appendChild(d);
}

function drawPanel(col, row, bands, colors, trop, core, dots) {
  const bottomRow = row === 2, firstCol = col === 0;
  const marginB = bottomRow ? 144 : 8;
  const datasets = bands.map(([band, flat], i) => shape(flat, band < 0 ? '#ffffff' : colors[band], 1000 - i, flat === fullPanel || band < 0 ? 0 : 0.25));
  if (trop) datasets.push({ data: toPoints(trop), showLine: true, fill: false, borderColor: '#ffff00', borderWidth: 2.5, pointRadius: 0, tension: 0.2, order: 1 });
  if (core) datasets.push({ data: toPoints(core), showLine: true, fill: false, borderColor: '#ffff00', borderWidth: 2.5, pointRadius: 0, order: 1 });
  if (dots) datasets.push({ data: toPoints(dots), showLine: false, backgroundColor: '#000', pointRadius: 2, borderWidth: 0, order: 0 });
  const gridOpts = { color: '#b0b0b0', lineWidth: 1.6, z: 1, tickColor: '#000', tickLength: 6, tickWidth: 1.2 };
  new Chart(addCanvas(columnLefts[col] - marginL, rowTops[row] - marginT, panelW + marginL + marginR, panelH + marginT + marginB), {
    type: 'scatter',
    data: { datasets: datasets },
    plugins: [frame, centerTicks],
    options: {
      responsive: false,
      animation: false,
      devicePixelRatio: 1,
      layout: { padding: { top: marginT, right: marginR, left: 0, bottom: 0 } },
      plugins: { legend: { display: false }, tooltip: { enabled: false } },
      scales: {
        x: {
          type: 'linear', min: -800, max: 800,
          grid: gridOpts, border: { display: false },
          afterBuildTicks: s => { s.ticks = xTicks.map(v => ({ value: v })); },
          afterFit: s => { s.height = marginB; noPadding(s); },
          ticks: { display: bottomRow, autoSkip: false, minRotation: 45, maxRotation: 45, callback: fmtTick },
          title: { display: bottomRow, text: ['Distance from', 'cyclone center (km)'], font: { size: 25, lineHeight: 1.12 }, padding: { top: 0, bottom: 0 } }
        },
        y: {
          type: 'linear', reverse: true, min: 200, max: 1000,
          grid: gridOpts, border: { display: false },
          afterBuildTicks: s => { s.ticks = yTicks.map(v => ({ value: v })); },
          afterFit: s => { s.width = marginL; noPadding(s); },
          ticks: { display: firstCol, autoSkip: false, padding: 5, callback: fmtTick },
          title: { display: firstCol, text: 'Height (hPa)', font: { size: 25 }, padding: { top: 0, bottom: 0 } }
        }
      }
    }
  });
}

function drawColorbar(top, h, bounds, colors, ticks, tip, decimals) {
  const last = bounds.length - 1;
  const datasets = [];
  bounds.slice(0, last).forEach((b, i) => {
    datasets.push(shape([-1, b, 1, b, 1, bounds[i + 1], -1, bounds[i + 1]], colors[i + 1], 100));
  });
  datasets.push(shape([-1, bounds[0], 0, -tip, 1, bounds[0]], colors[0], 100));
  datasets.push(shape([-1, bounds[last], 0, tip, 1, bounds[last]], colors[colors.length - 1], 100));
  datasets.push({
    data: toPoints([-1, bounds[last], 0, tip, 1, bounds[last], 1, bounds[0], 0, -tip, -1, bounds[0], -1, bounds[last]]),
    showLine: true, fill: false, borderColor: '#000', borderWidth: 1.1, pointRadius: 0, clip: 2, order: 1
  });
  const w = 13, marginX = 3, right = 100, pad = 3;
  new Chart(addCanvas(1071 - marginX, top - pad, w + marginX + right, h + 2 * pad), {
    type: 'scatter',
    data: { datasets: datasets },
    options: {
      responsive: false,
      animation: false,
      devicePixelRatio: 1,
      layout: { padding: { top: pad, bottom: pad, left: marginX, right: 0 } },
      plugins: { legend: { display: false }, tooltip: { enabled: false } },
      scales: {
        x: { type: 'linear', min: -1, max: 1, display: false },
        y: {
          type: 'linear', position: 'right', min: -tip, max: tip,
          grid: { drawOnChartArea: false, tickColor: '#000', tickLength: 6, tickWidth: 1.2 },
          border: { display: false },
          afterBuildTicks: s => { s.ticks = ticks.map(v => ({ value: v })); },
          afterFit: s => { s.width = right; noPadding(s); },
          ticks: { autoSkip: false, padding: 9, callback: v => (v < 0 ? '\u2212' : '') + Math.abs(v).toFixed(decimals) }
        }
      }
    }
  });
}

drawPanel(0, 0, past6Bands, pvColors, past6Trop, past6Core);
drawPanel(1, 0, past9Bands, pvColors, past9Trop, past9Core);
drawPanel(2, 0, past12Bands, pvColors, past12Trop, past12Core);
drawPanel(0, 1, future6Bands, pvColors, future6Trop, future6Core);
drawPanel(1, 1, future9Bands, pvColors, future9Trop, future9Core);
drawPanel(2, 1, future12Bands, pvColors, future12Trop, future12Core);
drawPanel(0, 2, diff6Bands, diffColors, null, null, diff6Dots);
drawPanel(1, 2, diff9Bands, diffColors, null, null, diff9Dots);
drawPanel(2, 2, diff12Bands, diffColors, null, null, diff12Dots);
drawColorbar(45, 552, pvBounds, pvColors, pvTicks, 3.335, 0);
drawColorbar(612, 265, diffBounds, diffColors, diffTicks, 1.1, 1);

columnTitles.forEach((t, i) => addLabel(t + ' <i>t<sub>slp</sub></i>', columnLefts[i] + panelW / 2, 28));
rowTitles.forEach((t, i) => addLabel(t, 23, rowTops[i] + panelH / 2, true));
addLabel('PV anomalies (PVU)', 1154, 320, true);
addLabel('Difference (PVU)', 1178, 745, true);
</script>
</body>
</html>
